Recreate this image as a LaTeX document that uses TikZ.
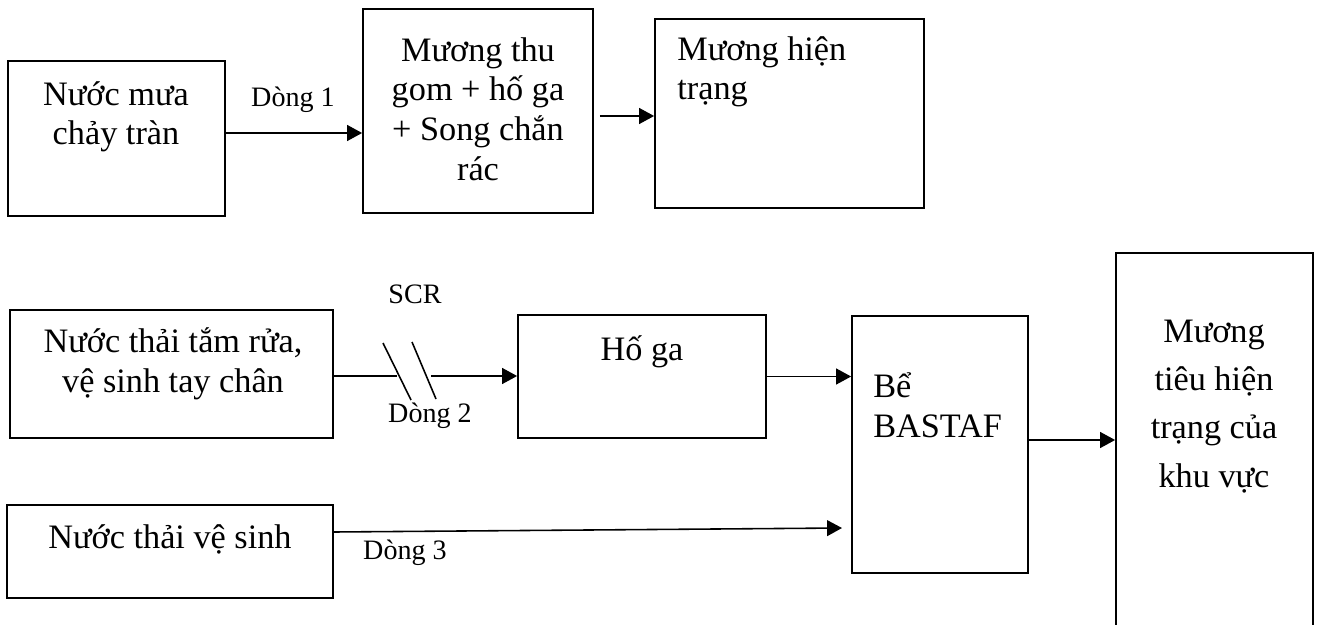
\documentclass[tikz,border=0pt]{standalone}
\usepackage{fontspec}
\setmainfont{Liberation Serif}
\usetikzlibrary{arrows.meta}
\usetikzlibrary{fit}

\tikzset{
  box/.style={draw, line width=1pt, inner sep=0pt},
  txt/.style={font=\fontsize{19.5}{22.5}\selectfont, inner sep=0pt, align=center, anchor=base},
  small/.style={font=\fontsize{16}{19}\selectfont, inner sep=0pt, anchor=base},
  flow/.style={-{Triangle[length=8.5pt,width=9pt]}, line width=0.9pt}
}

\begin{document}
\begin{tikzpicture}[x=0.02cm,y=-0.02cm]
\clip (0,0) rectangle (1325,625);
% rain water line
\node [box, fit={(8,61) (225,216)}] (rain) {};
\node [box, fit={(363,9) (593,213)}] (ditch) {};
\node [box, fit={(655,19) (924,208)}] (exist) {};
\node [txt] (rainTxt) at (116,145) {Nước mưa\\chảy tràn};
\node [txt] (ditchTxt) at (478,180) {Mương thu\\gom + hố ga\\+ Song chắn\\rác};
\node [txt, align=left, anchor=base west] (existTxt) at (677,100) {Mương hiện\\trạng};
\draw [flow] (rain.east |- 0,133) -- (ditch.west |- 0,133);
\node [small] (flowA) at (293,107) {Dòng 1};
\draw [flow, shorten <=0.12cm] (ditch.east |- 0,116) -- (exist.west |- 0,116);
% waste water lines
\node [box, fit={(10,310) (333,438)}] (wash) {};
\node [box, fit={(518,315) (766,438)}] (pit) {};
\node [box, fit={(852,316) (1028,573)}] (tank) {};
\node [box, fit={(1116,253) (1313,660)}] (outlet) {};
\node [box, fit={(7,505) (333,598)}] (toilet) {};
\node [txt] (washTxt) at (173,392) {Nước thải tắm rửa,\\vệ sinh tay chân};
\node [txt] (pitTxt) at (642,360) {Hố ga};
\node [txt, align=left, anchor=base west] (tankTxt) at (873,437) {Bể\\BASTAF};
\node [txt, font=\fontsize{19.5}{27.5}\selectfont] (outletTxt) at (1214,487)
  {Mương\\tiêu hiện\\trạng của\\khu vực};
\node [txt] (toiletTxt) at (170,548) {Nước thải vệ sinh};
\coordinate (cutL) at (397,376);
\coordinate (cutR) at (431,376);
\draw [line width=0.9pt] (wash.east |- cutL) -- (cutL);
\draw [line width=0.9pt] (383,343) -- (411,400) (412,342) -- (436,399);
\draw [flow] (cutR) -- (pit.west |- cutR);
\node [small] (scr) at (415,303) {SCR};
\node [small] (flowB) at (430,422) {Dòng 2};
\draw [flow] (pit.east) -- (pit.east -| tank.west);
\coordinate (toiletEnd) at (842,528);
\draw [flow] (toilet.east |- 0,532) -- (toiletEnd);
\node [small] (flowC) at (405,559) {Dòng 3};
\draw [flow] (tank.east |- 0,440) -- (outlet.west |- 0,440);
\end{tikzpicture}
\end{document}
